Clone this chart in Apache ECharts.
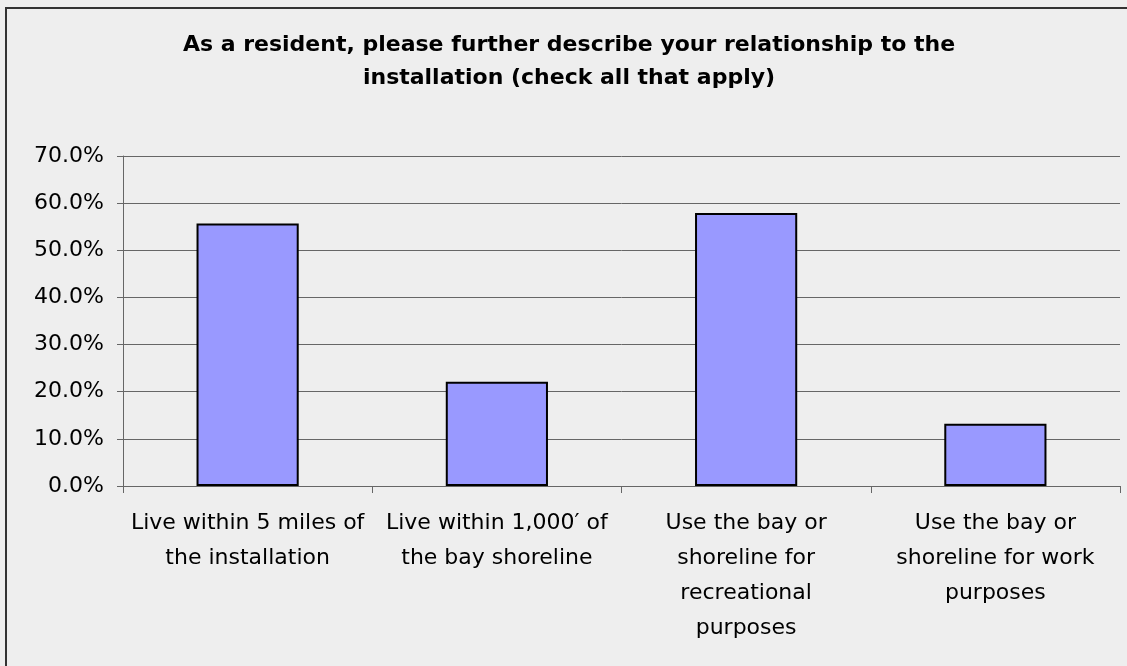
<!DOCTYPE html>
<html>
<head>
<meta charset="utf-8">
<script src="https://cdn.jsdelivr.net/npm/echarts@6/dist/echarts.min.js"></script>
<style>
html,body{margin:0;padding:0;background:#eeeeee;}
#chart{width:1127px;height:666px;}
</style>
</head>
<body>
<div id="chart"></div>
<script>
const titleText = "As a resident, please further describe your relationship to the\ninstallation (check all that apply)";
const categories = [
  "Live within 5 miles of the installation",
  "Live within 1,000′ of the bay shoreline",
  "Use the bay or shoreline for recreational purposes",
  "Use the bay or shoreline for work purposes"
];
const categoryLabels = [
  "Live within 5 miles of\nthe installation",
  "Live within 1,000′ of\nthe bay shoreline",
  "Use the bay or\nshoreline for\nrecreational\npurposes",
  "Use the bay or\nshoreline for work\npurposes"
];
const values = [55.7, 22.1, 57.9, 13.2];
const yTicks = [0, 10, 20, 30, 40, 50, 60, 70];

const FONT = "DejaVu Sans";
const chart = echarts.init(document.getElementById('chart'), null, {renderer: 'canvas'});
chart.setOption({
  backgroundColor: '#eeeeee',
  animation: false,
  title: {
    text: titleText,
    left: 564,
    textAlign: 'center',
    top: 24,
    textStyle: {fontFamily: FONT, fontSize: 22, fontWeight: 'bold', color: '#000', lineHeight: 33}
  },
  graphic: [{
    type: 'polyline',
    shape: {points: [[6, 700], [6, 8], [1200, 8]]},
    style: {stroke: '#333', lineWidth: 2, fill: null},
    silent: true
  }],
  grid: {left: 123, right: 7, top: 156, bottom: 180, containLabel: false},
  xAxis: {
    type: 'category',
    data: categories,
    axisLine: {show: true, lineStyle: {color: '#666', width: 1}},
    axisTick: {show: true, alignWithLabel: false, length: 7, lineStyle: {color: '#666'}},
    axisLabel: {
      interval: 0,
      margin: 20,
      fontFamily: FONT,
      fontSize: 22,
      color: '#000',
      lineHeight: 35,
      align: 'center',
      formatter: function (v, i) { return categoryLabels[i]; }
    },
    splitLine: {show: false}
  },
  yAxis: {
    type: 'value',
    min: yTicks[0],
    max: yTicks[yTicks.length - 1],
    interval: 10,
    axisLine: {show: true, lineStyle: {color: '#666', width: 1}},
    axisTick: {show: true, length: 6, lineStyle: {color: '#666'}},
    axisLabel: {
      fontFamily: FONT,
      fontSize: 22,
      color: '#000',
      margin: 19,
      formatter: function (v) { return v.toFixed(1) + '%'; }
    },
    splitLine: {show: true, lineStyle: {color: '#666', width: 1}}
  },
  series: [{
    type: 'bar',
    data: values,
    barWidth: '41%',
    itemStyle: {color: '#9999ff', borderColor: '#000', borderWidth: 2}
  }]
});
</script>
</body>
</html>
